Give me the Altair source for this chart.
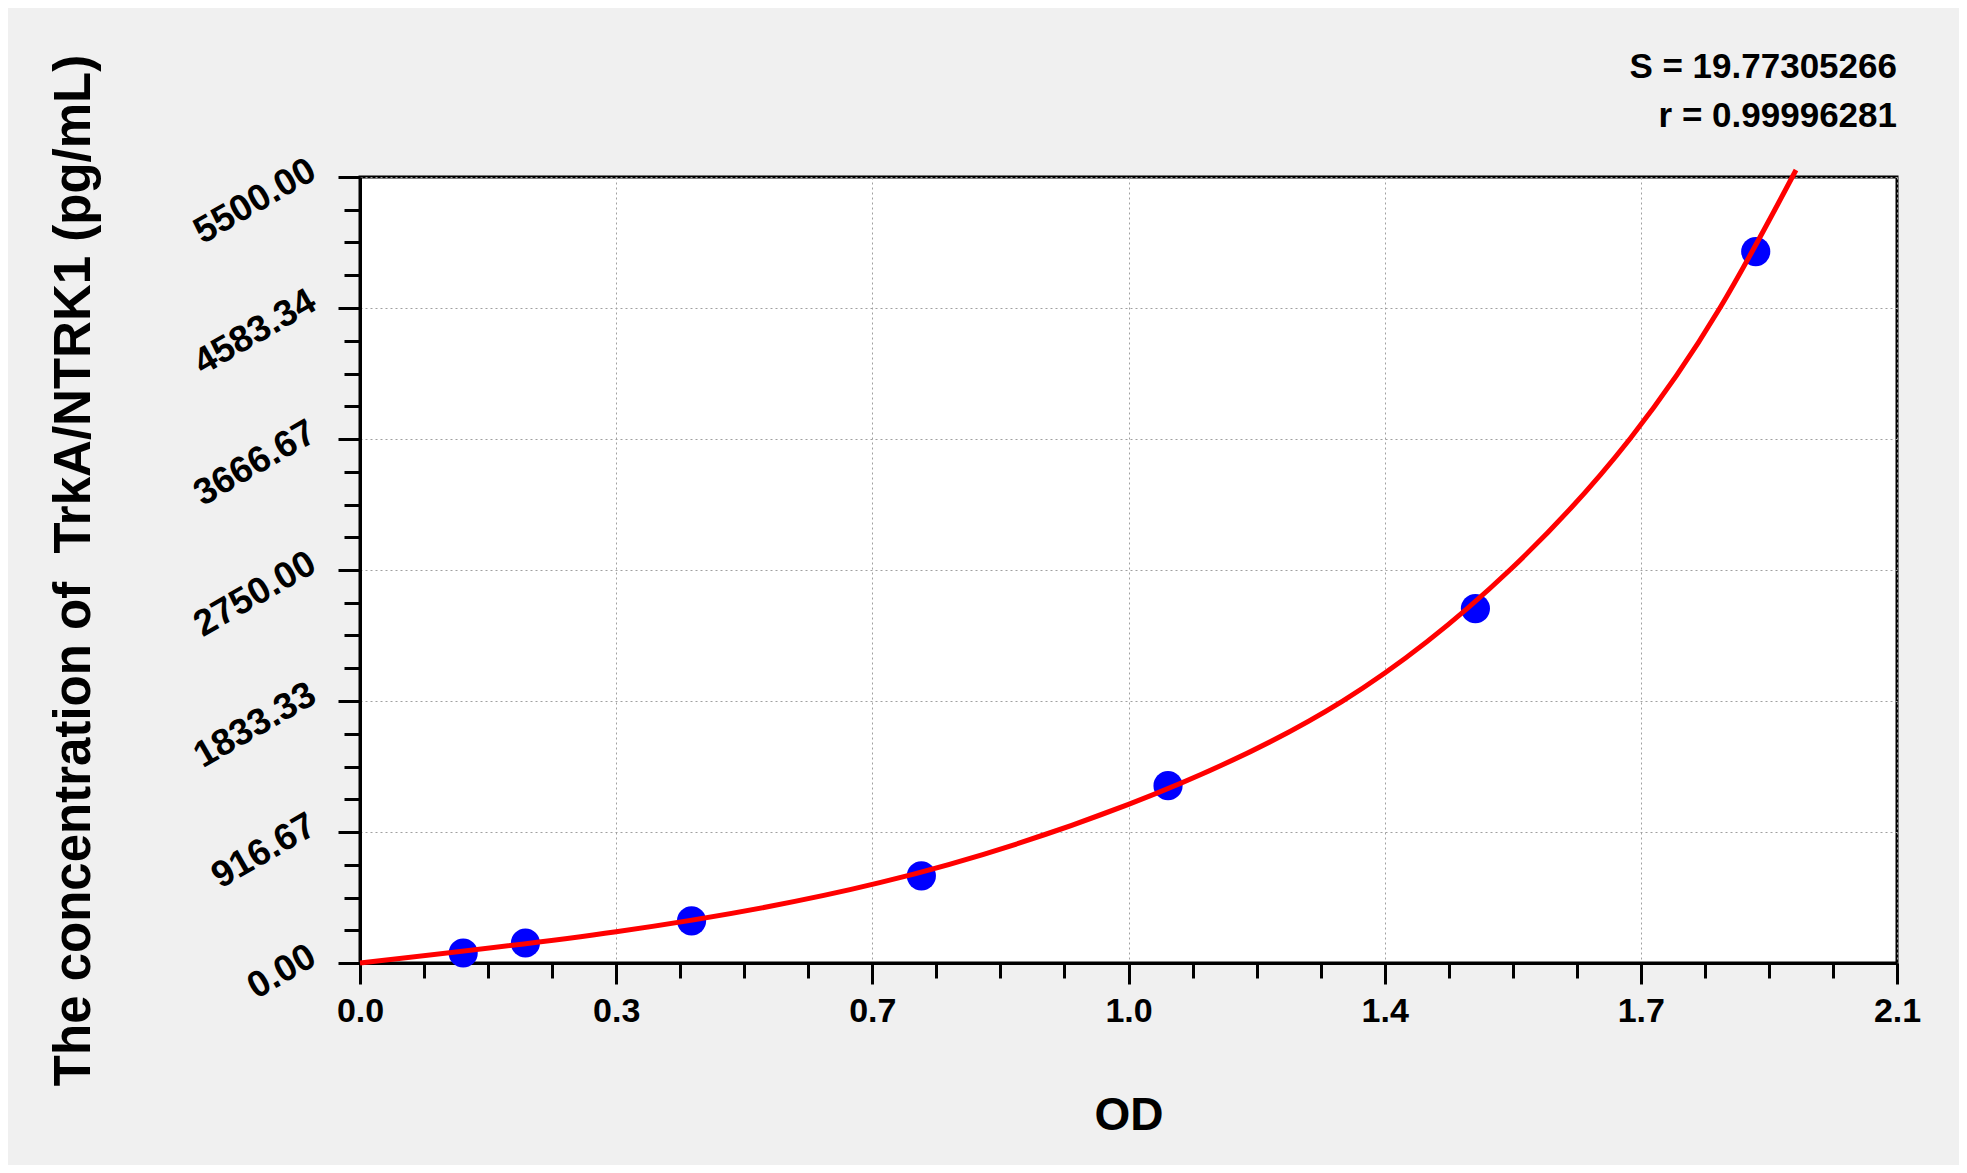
import altair as alt
import pandas as pd

# ---- data ----
std_od = [0.141, 0.226, 0.453, 0.767, 1.104, 1.524, 1.907]
std_conc = [70, 140, 295, 610, 1241, 2480, 4978]

# fitted curve, read where it crosses grid lines
curve_od = [0.00, 0.35, 0.71, 1.05, 1.3425, 1.571, 1.735, 1.858, 1.962]
curve_conc = [0, 219, 562, 1110, 1833, 2750, 3667, 4583, 5549]

x_major_labels = ["0.0", "0.3", "0.7", "1.0", "1.4", "1.7", "2.1"]
y_major_labels = ["0.00", "916.67", "1833.33", "2750.00", "3666.67", "4583.34", "5500.00"]
stats_lines = ["S = 19.77305266", "r = 0.99996281"]
y_title = "The concentration of\u00a0 TrkA/NTRK1 (pg/mL)"
x_title = "OD"

X_MAX = 2.1
Y_MAX = 5500
N_MAJOR = 6
N_SUB = 4

W, H = 1537, 786
FONT = "Liberation Sans"

x_step = X_MAX / N_MAJOR
y_step = Y_MAX / N_MAJOR
x_vals = [round(i * x_step / N_SUB, 6) for i in range(N_MAJOR * N_SUB + 1)]
y_vals = [round(i * y_step / N_SUB, 6) for i in range(N_MAJOR * N_SUB + 1)]

def major_test(step):
    return f"abs(datum.value/{step} - round(datum.value/{step})) < 0.001"

def label_expr(step, labels):
    arr = "[" + ",".join(f"'{l}'" for l in labels) + "]"
    return f"({major_test(step)}) ? {arr}[round(datum.value/{step})] : ''"

common_axis = dict(
    labelFont=FONT, labelFontWeight="bold", labelColor="black",
    labelOverlap=False, labelFlush=False, labelBound=False,
    tickColor="black", tickWidth=3,
    domainColor="black", domainWidth=3,
    grid=True, gridColor="#a0a0a0", gridDash=[2, 3], gridWidth=1,
    titleFont=FONT, titleFontWeight="bold", titleColor="black",
)

x_axis = alt.Axis(
    values=x_vals,
    labelExpr=label_expr(x_step, x_major_labels),
    labelFontSize=34, labelPadding=10,
    tickSize={"condition": {"test": major_test(x_step), "value": 21}, "value": 15},
    gridOpacity={"condition": {"test": major_test(x_step), "value": 1}, "value": 0},
    title=x_title, titleFontSize=46, titleX=W / 2, titleY=166,
    titleAlign="center", titleBaseline="alphabetic", titleAngle=0,
    **common_axis,
)

y_axis = alt.Axis(
    values=y_vals,
    labelExpr=label_expr(y_step, y_major_labels),
    labelFontSize=37, labelPadding=20, labelAngle=330,
    labelAlign="right", labelBaseline="alphabetic",
    tickSize={"condition": {"test": major_test(y_step), "value": 22}, "value": 16},
    gridOpacity={"condition": {"test": major_test(y_step), "value": 1}, "value": 0},
    title=y_title, titleFontSize=51,
    titleX=-271, titleY=H / 2, titleAngle=270,
    titleAlign="center", titleBaseline="alphabetic",
    **common_axis,
)

x_enc = alt.X("od:Q", scale=alt.Scale(domain=[0, X_MAX], nice=False, zero=False), axis=x_axis)
y_enc = alt.Y("conc:Q", scale=alt.Scale(domain=[0, Y_MAX], nice=False, zero=False), axis=y_axis)

pts_df = pd.DataFrame({"od": std_od, "conc": std_conc})
curve_df = pd.DataFrame({"od": curve_od, "conc": curve_conc})

points = alt.Chart(pts_df).mark_circle(size=850, color="#0000ff", opacity=1).encode(x=x_enc, y=y_enc)
curve = alt.Chart(curve_df).mark_line(color="#ff0000", strokeWidth=5, interpolate="natural").encode(
    x=x_enc, y=y_enc, order="od:Q")

stat1 = alt.Chart(pd.DataFrame({"t": [stats_lines[0]]})).mark_text(
    align="right", baseline="alphabetic", font=FONT, fontSize=35, fontWeight="bold", color="black"
).encode(text="t:N", x=alt.value(W), y=alt.value(-99))
stat2 = alt.Chart(pd.DataFrame({"t": [stats_lines[1]]})).mark_text(
    align="right", baseline="alphabetic", font=FONT, fontSize=35, fontWeight="bold", color="black"
).encode(text="t:N", x=alt.value(W), y=alt.value(-50))

chart = alt.layer(points, curve, stat1, stat2).properties(
    width=W, height=H,
    autosize=alt.AutoSizeParams(type="none"),
    padding={"left": 352, "top": 169, "right": 62, "bottom": 202},
    background="#f0f0f0",
).configure_view(
    fill="white", stroke="black", strokeWidth=3
)

chart.save("out.html", embed_options={"renderer": "svg", "actions": False})
